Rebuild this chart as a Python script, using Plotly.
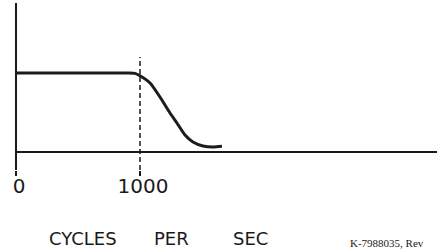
import plotly.graph_objects as go

# Response curve (frequency in cycles/sec, relative amplitude)
freq = [0, 500, 900, 960, 1000, 1081, 1161, 1242, 1298, 1363, 1427, 1508, 1589, 1661]
amp = [1.0, 1.0, 1.0, 0.995, 0.965, 0.873, 0.696, 0.494, 0.367, 0.215, 0.127, 0.076, 0.063, 0.072]

tick_vals = [0, 1000]
tick_text = ["0", "1000"]
cutoff = 1000
x_title_words = ["CYCLES", "PER", "SEC"]
ref_text = "K-7988035, Rev"

W, H = 437, 251
PX_PER_UNIT_X = 0.124  # px per cycle/sec
x0_px = 16
x_range = [-x0_px / PX_PER_UNIT_X, (W - x0_px) / PX_PER_UNIT_X]
plot_bottom = 170
base_px, level_px = 152, 73
unit = base_px - level_px
y_range = [-(plot_bottom - base_px) / unit, base_px / unit]

fig = go.Figure()
fig.add_trace(go.Scatter(x=freq, y=amp, mode="lines",
                         line=dict(color="#1c1c1c", width=3, shape="spline", smoothing=0.6),
                         hoverinfo="skip", showlegend=False))

ink = "#1a1a1a"
# baseline
fig.add_shape(type="line", xref="x", yref="y", x0=0, x1=x_range[1], y0=0, y1=0,
              line=dict(color=ink, width=2))
# vertical axis
fig.add_shape(type="line", xref="x", yref="paper", x0=0, x1=0, y0=0, y1=(plot_bottom - 3) / plot_bottom,
              line=dict(color=ink, width=2))
# cutoff dashed line
fig.add_shape(type="line", xref="x", yref="paper", x0=cutoff, x1=cutoff,
              y0=0, y1=(plot_bottom - 57) / plot_bottom,
              line=dict(color=ink, width=1.5, dash="5px,3px"))

fig.update_xaxes(range=x_range, showgrid=False, zeroline=False, showline=False,
                 automargin=False,
                 tickvals=tick_vals, ticktext=tick_text, ticks="outside", ticklen=5,
                 tickwidth=1.5, tickcolor=ink, ticklabelstandoff=-7, ticklabelshift=3,
                 tickfont=dict(family="DejaVu Sans", size=20, color=ink))
fig.update_yaxes(range=y_range, showgrid=False, zeroline=False, showline=False,
                 automargin=False, showticklabels=False, ticks="")

word_x = [83, 171, 250]
for w, cx in zip(x_title_words, word_x):
    fig.add_annotation(text=w, xref="paper", yref="paper", x=cx / W, y=-(H - 0.5 - plot_bottom) / plot_bottom,
                       xanchor="center", yanchor="bottom", showarrow=False,
                       font=dict(family="DejaVu Sans", size=18, color=ink))
fig.add_annotation(text=ref_text, xref="paper", yref="paper", x=348 / W,
                   y=-(243 - plot_bottom) / plot_bottom, xanchor="left", yanchor="middle",
                   showarrow=False, font=dict(family="Liberation Serif", size=11, color=ink))

fig.update_layout(width=W, height=H, margin=dict(l=0, r=0, t=0, b=H - plot_bottom, pad=0),
                  paper_bgcolor="white", plot_bgcolor="white")
fig.write_html("out.html", config={"displayModeBar": False},
               post_script="document.body.style.margin='0';document.body.style.overflow='hidden';")
